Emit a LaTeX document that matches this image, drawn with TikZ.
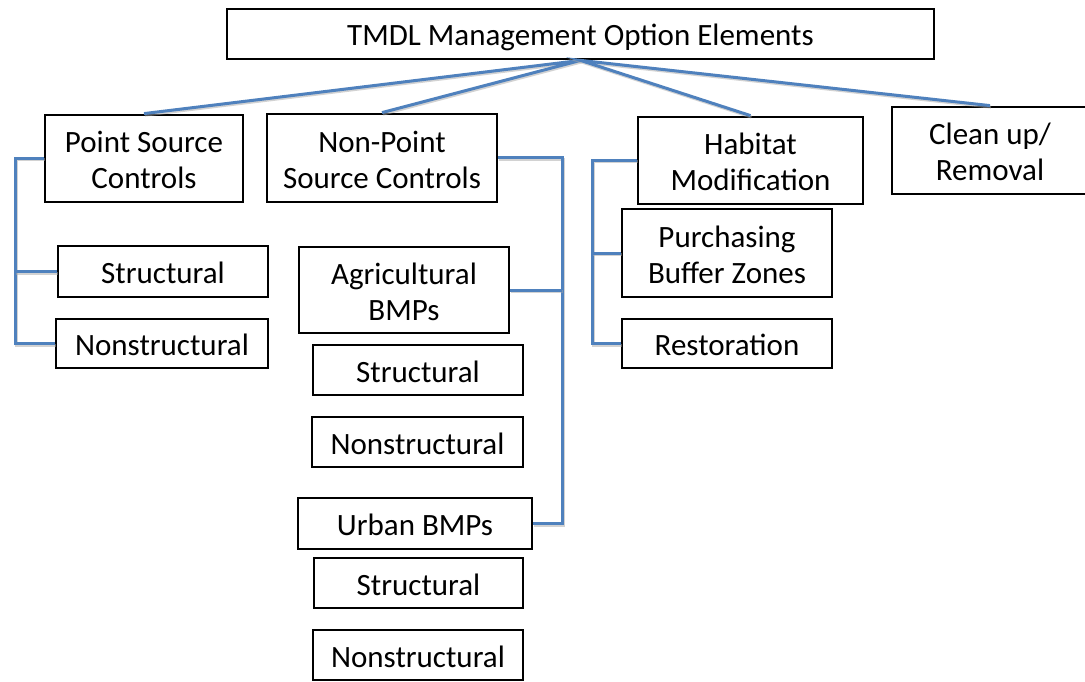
\documentclass[tikz,border=0pt]{standalone}
\usepackage{fontspec}
\setmainfont{Carlito}
\definecolor{linkblue}{RGB}{79,129,189}
\tikzset{
  box/.style={draw=black, line width=2.8pt, fill=white, inner sep=0pt,
    align=center, font=\fontsize{31}{36}\selectfont, text depth=0pt},
  one/.style={box, text height=24pt},
  two/.style={box, text height=61pt},
  link/.style={draw=linkblue, line width=3pt,
    preaction={draw=black!35, opacity=0.5, line width=3pt,
      transform canvas={shift={(1pt,-1.5pt)}}}},
}
\begin{document}
\begin{tikzpicture}[x=1pt, y=-1pt]
  \clip (0,0) rectangle (1085,682);
  \fill[white] (0,0) rectangle (1085,682);

  % top level
  \node[one, minimum width=707pt, minimum height=50pt] (top) at (580.5,34) {TMDL Management Option Elements};

  % second level
  \node[two, minimum width=198pt, minimum height=87pt] (psc) at (144,158.5) {Point Source\\Controls};
  \node[two, minimum width=230pt, minimum height=88pt] (npsc) at (382,158) {Non-Point\\Source Controls};
  \node[two, minimum width=225pt, minimum height=87pt] (hab) at (750.5,160.5) {Habitat\\Modification};
  \node[two, minimum width=196pt, minimum height=87pt] (clean) at (990,150.5) {Clean up/\\Removal};

  % point source branch
  \node[one, minimum width=210pt, minimum height=51pt] (psS) at (163,271.5) {Structural};
  \node[one, minimum width=212pt, minimum height=49pt] (psN) at (162,343.5) {Nonstructural};

  % non-point source branch
  \node[two, minimum width=210pt, minimum height=86pt] (agr) at (404,290) {Agricultural\\BMPs};
  \node[one, minimum width=210pt, minimum height=50pt] (agS) at (418,370) {Structural};
  \node[one, minimum width=211pt, minimum height=50pt] (agN) at (417.5,442) {Nonstructural};
  \node[one, minimum width=234pt, minimum height=51pt] (urb) at (415,523.5) {Urban BMPs};
  \node[one, minimum width=209pt, minimum height=50pt] (urS) at (418.5,583) {Structural};
  \node[one, minimum width=210pt, minimum height=50pt] (urN) at (418,655) {Nonstructural};

  % habitat branch
  \node[two, minimum width=210pt, minimum height=88pt] (pur) at (727,253) {Purchasing\\Buffer Zones};
  \node[one, minimum width=210pt, minimum height=49pt] (res) at (727,343.5) {Restoration};

  % bracket rails
  \coordinate (railA) at (15,0);
  \coordinate (railB) at (562,0);
  \coordinate (railC) at (592,0);

  % connectors from the top box
  \draw[link] (psc.north) -- (top.south) -- (npsc.north);
  \draw[link] (hab.north) -- (top.south) -- (clean.north);

  % point source bracket
  \draw[link] (psc.west) -- (psc.west -| railA) |- (psN.west);
  \draw[link] (psS.west) -- (psS.west -| railA);

  % non-point source bracket
  \draw[link] (npsc.east) -- (npsc.east -| railB) |- (urb.east);
  \draw[link] (agr.east) -- (agr.east -| railB);

  % habitat bracket
  \draw[link] (hab.west) -- (hab.west -| railC) |- (res.west);
  \draw[link] (pur.west) -- (pur.west -| railC);
\end{tikzpicture}
\end{document}
